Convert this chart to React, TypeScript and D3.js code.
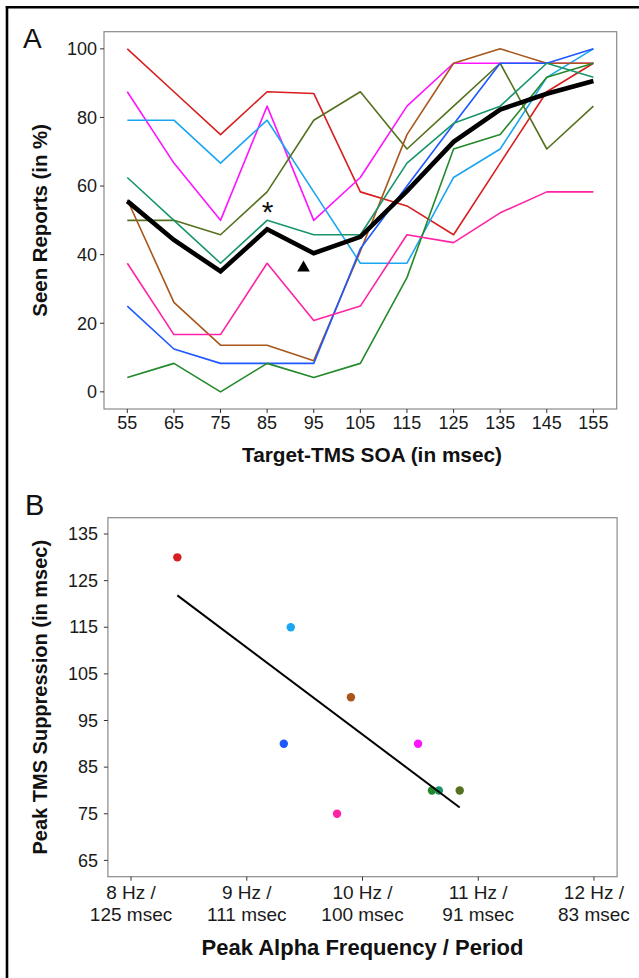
import React from "react";
import * as d3 from "d3";

// ---------- Panel A data ----------
const soaValues = [55, 65, 75, 85, 95, 105, 115, 125, 135, 145, 155];
const yTicksA = [0, 20, 40, 60, 80, 100];

const subjRed = [100, 87.5, 75, 87.5, 87, 58.3, 54.2, 45.8, 66.7, 87.5, 95.8];
const subjMagenta = [87.5, 66.7, 50, 83.3, 50, 62.5, 83.3, 95.8, 95.8, 95.8, 95.8];
const subjLightBlue = [79.2, 79.2, 66.7, 79.2, 58.3, 37.5, 37.5, 62.5, 70.8, 91.7, 100];
const subjTeal = [62.5, 50, 37.5, 50, 45.8, 45.8, 66.7, 78.3, 83.3, 95.8, 91.7];
const subjOlive = [50, 50, 45.8, 58.3, 79.2, 87.5, 70.8, 83.3, 95.8, 70.8, 83.3];
const subjBrown = [56, 26.1, 13.6, 13.6, 9.1, 41, 75, 95.8, 100, 95.8, 95.8];
const subjBlue = [25, 12.5, 8.3, 8.3, 8.3, 41.7, 60, 78, 95.8, 95.8, 100];
const subjGreen = [4.2, 8.3, 0, 8.3, 4.2, 8.3, 33.3, 70.8, 75, 91.7, 95.8];
const subjPink = [37.5, 16.7, 16.7, 37.5, 20.8, 25, 45.8, 43.5, 52.2, 58.3, 58.3];
const groupMean = [55.6, 44.3, 35.1, 47.4, 40.4, 45.2, 58.5, 72.9, 82.3, 86.9, 90.6];

const colRed = "#D81E1E";
const colMagenta = "#FF14FF";
const colLightBlue = "#1AA6F0";
const colTeal = "#16966A";
const colOlive = "#55701E";
const colBrown = "#A8561A";
const colBlue = "#1E58FF";
const colGreen = "#23892A";
const colPink = "#FF22A6";

const subjects = [
  { values: subjRed, color: colRed },
  { values: subjMagenta, color: colMagenta },
  { values: subjLightBlue, color: colLightBlue },
  { values: subjOlive, color: colOlive },
  { values: subjBrown, color: colBrown },
  { values: subjBlue, color: colBlue },
  { values: subjGreen, color: colGreen },
  { values: subjPink, color: colPink },
  { values: subjTeal, color: colTeal },
];

// ---------- Panel B data ----------
const peakFreqHz = [8.40, 9.38, 9.90, 9.32, 10.48, 9.78, 10.60, 10.66, 10.84];
const peakSuppression = [130, 115, 100, 90, 90, 75, 80, 80, 80];
const pointColors = [colRed, colLightBlue, colBrown, colBlue, colMagenta, colPink, colGreen, colTeal, colOlive];
const xTicksB = [8, 9, 10, 11, 12];
const xTickLine1 = ["8 Hz /", "9 Hz /", "10 Hz /", "11 Hz /", "12 Hz /"];
const xTickLine2 = ["125 msec", "111 msec", "100 msec", "91 msec", "83 msec"];
const yTicksB = [65, 75, 85, 95, 105, 115, 125, 135];

const FONT = "'Liberation Sans', Arial, Helvetica, sans-serif";
const AXIS_GRAY = "#8a8a8a";

export default function App() {
  // Panel A geometry
  const aL = 104, aR = 616.7, aT = 31.7, aB = 409;
  const xA = d3.scaleLinear().domain([50, 160]).range([aL, aR]);
  const yA = d3.scaleLinear().domain([-5, 105]).range([aB, aT]);
  const lineA = d3
    .line<number>()
    .x((_, i) => xA(soaValues[i]))
    .y((d) => yA(d));

  // Panel B geometry
  const bL = 107.9, bR = 617.1, bT = 517.7, bB = 876.7;
  const xB = d3.scaleLinear().domain([7.8, 12.2]).range([bL, bR]);
  const yB = d3.scaleLinear().domain([61.5, 138.5]).range([bB, bT]);

  // least-squares fit
  const mx = d3.mean(peakFreqHz)!;
  const my = d3.mean(peakSuppression)!;
  let sxy = 0, sxx = 0;
  peakFreqHz.forEach((x, i) => {
    sxy += (x - mx) * (peakSuppression[i] - my);
    sxx += (x - mx) * (x - mx);
  });
  const slope = sxy / sxx;
  const icpt = my - slope * mx;
  const [fx0, fx1] = d3.extent(peakFreqHz) as [number, number];

  return (
    <svg
      width={639}
      height={978}
      style={{ position: "absolute", left: 0, top: 0, background: "#fff" }}
      fontFamily={FONT}
    >
      <rect x={0} y={0} width={639} height={978} fill="#fff" />
      {/* outer frame */}
      <line x1={5.8} y1={7.3} x2={639} y2={7.3} stroke="#000" strokeWidth={2.6} />
      <line x1={7} y1={6} x2={7} y2={978} stroke="#000" strokeWidth={2.6} />

      {/* ---------- Panel A ---------- */}
      <text x={23} y={48} fontSize={28} fill="#111">A</text>
      <rect x={aL} y={aT} width={aR - aL} height={aB - aT} fill="none" stroke={AXIS_GRAY} strokeWidth={1.2} />
      {yTicksA.map((t) => (
        <g key={"ya" + t}>
          <line x1={aL - 4} x2={aL} y1={yA(t)} y2={yA(t)} stroke="#333" strokeWidth={1} />
          <text x={97} y={yA(t) + 6.3} fontSize={18} textAnchor="end" fill="#1a1a1a">{t}</text>
        </g>
      ))}
      {soaValues.map((t) => (
        <g key={"xa" + t}>
          <line x1={xA(t)} x2={xA(t)} y1={aB} y2={aB + 4} stroke="#333" strokeWidth={1} />
          <text x={xA(t)} y={429} fontSize={18} textAnchor="middle" fill="#1a1a1a">{t}</text>
        </g>
      ))}
      {subjects.map((s, i) => (
        <path key={"s" + i} d={lineA(s.values) || ""} fill="none" stroke={s.color} strokeWidth={1.6} strokeLinejoin="round" />
      ))}
      <path d={lineA(groupMean) || ""} fill="none" stroke="#000" strokeWidth={4.6} strokeLinejoin="miter" />
      <text x={xA(85) + 0.5} y={222} fontSize={30} textAnchor="middle" fill="#111">*</text>
      <path d={`M${xA(92.8) - 6.3},${271.5} L${xA(92.8) + 6.3},${271.5} L${xA(92.8)},${260.5} Z`} fill="#000" />
      <text x={372} y={461.5} fontSize={20.8} fontWeight="bold" textAnchor="middle" fill="#111">Target-TMS SOA (in msec)</text>
      <text transform={`translate(46.5,${(aT + aB) / 2}) rotate(-90)`} fontSize={20.4} fontWeight="bold" textAnchor="middle" fill="#111">Seen Reports (in %)</text>

      {/* ---------- Panel B ---------- */}
      <text x={25} y={515} fontSize={29} fill="#111">B</text>
      <rect x={bL} y={bT} width={bR - bL} height={bB - bT} fill="none" stroke={AXIS_GRAY} strokeWidth={1.2} />
      {yTicksB.map((t) => (
        <g key={"yb" + t}>
          <line x1={bL - 4} x2={bL} y1={yB(t)} y2={yB(t)} stroke="#333" strokeWidth={1} />
          <text x={98} y={yB(t) + 6.2} fontSize={18} textAnchor="end" fill="#1a1a1a">{t}</text>
        </g>
      ))}
      {xTicksB.map((t, i) => (
        <g key={"xb" + t}>
          <line x1={xB(t)} x2={xB(t)} y1={bB} y2={bB + 4} stroke="#333" strokeWidth={1} />
          <text x={xB(t)} y={899} fontSize={19} textAnchor="middle" fill="#1a1a1a">{xTickLine1[i]}</text>
          <text x={xB(t)} y={920.5} fontSize={19} textAnchor="middle" fill="#1a1a1a">{xTickLine2[i]}</text>
        </g>
      ))}
      {peakFreqHz.map((f, i) => (
        <circle key={"p" + i} cx={xB(f)} cy={yB(peakSuppression[i])} r={4.2} fill={pointColors[i]} />
      ))}
      <line
        x1={xB(fx0)}
        y1={yB(icpt + slope * fx0)}
        x2={xB(fx1)}
        y2={yB(icpt + slope * fx1)}
        stroke="#000"
        strokeWidth={2}
      />
      <text x={362.5} y={955} fontSize={22} fontWeight="bold" textAnchor="middle" fill="#111">Peak Alpha Frequency / Period</text>
      <text transform={`translate(46.5,${(bT + bB) / 2}) rotate(-90)`} fontSize={20} fontWeight="bold" textAnchor="middle" fill="#111">Peak TMS Suppression (in msec)</text>
    </svg>
  );
}
